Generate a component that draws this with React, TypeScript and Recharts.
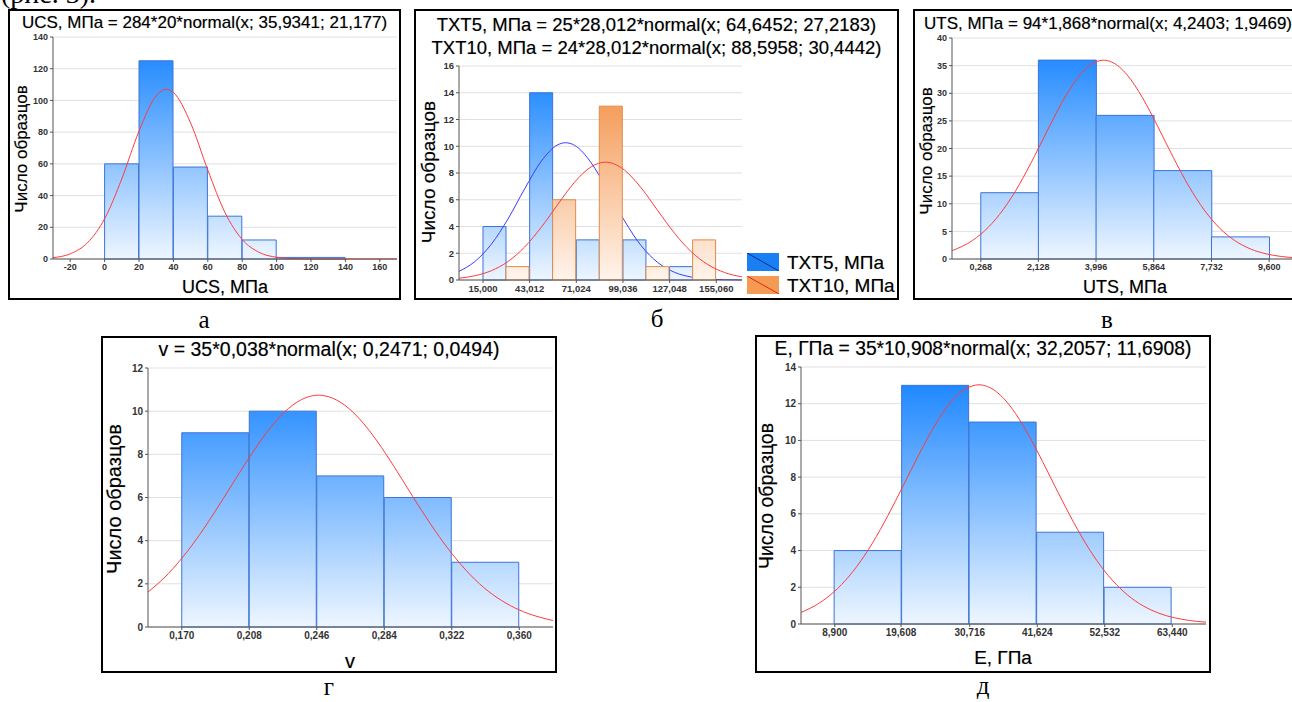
import React from "react";
import { ComposedChart, Bar, Line, XAxis, YAxis, CartesianGrid } from "recharts";

// а — UCS, МПа
const ucsBinMid = [10, 30, 50, 70, 90, 110, 130];
const ucsCount = [60, 125, 58, 27, 12, 1, 1];
const ucsXTicks = [-20, 0, 20, 40, 60, 80, 100, 120, 140, 160];
const ucsYTicks = [0, 20, 40, 60, 80, 100, 120, 140];
const ucsFitX = [-30, -20, -10, 0, 10, 20, 30, 35.9, 40, 50, 60, 70, 80, 90, 100, 110, 120, 130, 140, 150, 160, 170];
const ucsFitY = [0.84, 3.27, 10.19, 25.35, 50.56, 80.62, 102.9, 107.0, 105.0, 85.8, 56.1, 29.3, 12.3, 4.11, 1.1, 0.24, 0.04, 0.01, 0, 0, 0, 0];

// б — TXT5 / TXT10, МПа
const txtBinMid = [29.006, 57.018, 85.03, 113.042, 141.054];
const txt5Count = [4, 14, 3, 3, 1];
const txt10Count = [1, 6, 13, 1, 3];
const txtXTicks = [15, 43.012, 71.024, 99.036, 127.048, 155.06];
const txtYTicks = [0, 2, 4, 6, 8, 10, 12, 14, 16];
const txtFitX = [0.6, 10, 20, 30, 40, 50, 60, 64.6, 70, 80, 88.6, 90, 100, 110, 120, 130, 140, 150, 160, 170, 170.5];
const txt5FitY = [0.645, 1.368, 2.674, 4.565, 6.812, 8.881, 10.115, 10.264, 10.067, 8.754, 6.968, 6.651, 4.415, 2.561, 1.297, 0.575, 0.222, 0.075, 0.022, 0.006, 0.005];
const txt10FitY = [0.135, 0.315, 0.696, 1.382, 2.464, 3.945, 5.667, 6.458, 7.311, 8.466, 8.81, 8.8, 8.213, 6.882, 5.175, 3.494, 2.118, 1.153, 0.563, 0.247, 0.236];

// в — UTS, МПа
const utsBinMid = [1.198, 3.062, 4.93, 6.798, 8.666];
const utsCount = [12, 36, 26, 16, 4];
const utsXTicks = [0.268, 2.128, 3.996, 5.864, 7.732, 9.6];
const utsYTicks = [0, 5, 10, 15, 20, 25, 30, 35, 40];
const utsFitX = [-0.66, 0, 0.5, 1, 1.5, 2, 2.5, 3, 3.5, 4, 4.24, 4.5, 5, 5.5, 6, 6.5, 7, 7.5, 8, 8.5, 9, 9.5, 10, 10.53];
const utsFitY = [1.51, 3.36, 5.69, 9.01, 13.36, 18.56, 24.13, 29.37, 33.47, 35.71, 35.98, 35.66, 33.34, 29.19, 23.92, 18.35, 13.18, 8.86, 5.57, 3.29, 1.81, 0.94, 0.45, 0.19];

// г — v
const nuBinMid = [0.189, 0.227, 0.265, 0.303, 0.341];
const nuCount = [9, 10, 7, 6, 3];
const nuXTicks = [0.17, 0.208, 0.246, 0.284, 0.322, 0.36];
const nuYTicks = [0, 2, 4, 6, 8, 10, 12];
const nuFitX = [0.151, 0.16, 0.17, 0.18, 0.19, 0.2, 0.21, 0.22, 0.23, 0.24, 0.247, 0.25, 0.26, 0.27, 0.28, 0.29, 0.3, 0.31, 0.32, 0.33, 0.34, 0.35, 0.36, 0.37, 0.379];
const nuFitY = [1.62, 2.27, 3.18, 4.27, 5.51, 6.82, 8.1, 9.24, 10.12, 10.63, 10.74, 10.72, 10.38, 9.65, 8.61, 7.37, 6.05, 4.78, 3.62, 2.63, 1.83, 1.23, 0.79, 0.49, 0.3];

// д — E, ГПа
const eBinMid = [14.254, 25.162, 36.07, 46.978, 57.886];
const eCount = [4, 13, 11, 5, 2];
const eXTicks = [8.9, 19.608, 30.716, 41.624, 52.532, 63.44];
const eYTicks = [0, 2, 4, 6, 8, 10, 12, 14];
const eFitX = [3.45, 5, 7.5, 10, 12.5, 15, 17.5, 20, 22.5, 25, 27.5, 30, 32.2, 35, 37.5, 40, 42.5, 45, 47.5, 50, 52.5, 55, 57.5, 60, 62.5, 65, 67.5, 68.89];
const eFitY = [0.63, 0.87, 1.4, 2.15, 3.15, 4.41, 5.91, 7.56, 9.23, 10.78, 12.02, 12.8, 13.03, 12.66, 11.76, 10.43, 8.84, 7.16, 5.54, 4.09, 2.89, 1.95, 1.25, 0.77, 0.45, 0.26, 0.14, 0.1];

const SANS = "'Liberation Sans', Arial, sans-serif";
const SERIF = "'Liberation Serif', 'Times New Roman', serif";
const INK = "0 0 1px rgba(0,0,0,0.35)";
const ML = 30;
const MT = 6;
const MR = 4;
const XH = 22;

type Series = { key: string; values: number[]; fill: "blue" | "orange"; stroke: string; z?: number };
type Fit = { x: number[]; y: number[]; color: string; z?: number };

type HistProps = {
  id: string;
  plot: [number, number, number, number];
  binMid: number[];
  series: Series[];
  fits: Fit[];
  xDomain: [number, number];
  xTicks: number[];
  decimals: number;
  yTicks: number[];
  tickSize: number;
};

function Histogram({ id, plot, binMid, series, fits, xDomain, xTicks, decimals, yTicks, tickSize }: HistProps) {
  const [px, py, pw, ph] = plot;
  const yMax = yTicks[yTicks.length - 1];
  const rows = binMid.map((x, i) => {
    const row: Record<string, number> = { x };
    series.forEach((s) => (row[s.key] = s.values[i]));
    return row;
  });
  const fmt = (v: number) => v.toFixed(decimals).replace(".", ",");
  const tick = { fontSize: tickSize, fontWeight: 700, fill: "#333", fontFamily: SANS };

  return (
    <div style={{ position: "absolute", left: px - ML, top: py - MT }}>
      <ComposedChart
        width={pw + ML + MR}
        height={ph + MT + XH}
        data={rows}
        margin={{ top: MT, right: MR, bottom: 0, left: 0 }}
        barGap={0}
        barCategoryGap={0}
      >
        <defs>
          <linearGradient id={`${id}-blue`} gradientUnits="userSpaceOnUse" x1={0} y1={MT} x2={0} y2={MT + ph}>
            <stop offset="0%" stopColor="#1080ff" />
            <stop offset="100%" stopColor="#eef6ff" />
          </linearGradient>
          <linearGradient id={`${id}-orange`} gradientUnits="userSpaceOnUse" x1={0} y1={MT} x2={0} y2={MT + ph}>
            <stop offset="0%" stopColor="#f28a3a" />
            <stop offset="100%" stopColor="#fff4ec" />
          </linearGradient>
        </defs>
        <CartesianGrid vertical={false} stroke="#e0e0e0" />
        <XAxis
          dataKey="x"
          type="number"
          domain={xDomain}
          ticks={xTicks}
          interval={0}
          tickFormatter={fmt}
          height={XH}
          tick={tick}
          tickSize={3}
          tickMargin={2}
          stroke="#555"
          allowDataOverflow
        />
        <XAxis xAxisId="curve" dataKey="x" type="number" domain={xDomain} hide allowDataOverflow />
        <XAxis
          xAxisId="top"
          orientation="top"
          type="number"
          domain={xDomain}
          ticks={xTicks}
          interval={0}
          height={0}
          mirror
          tickFormatter={() => ""}
          tickSize={3}
          stroke="#8a8a8a"
          allowDataOverflow
        />
        <YAxis
          type="number"
          domain={[0, yMax]}
          ticks={yTicks}
          interval={0}
          width={ML}
          tick={tick}
          tickSize={3}
          tickMargin={2}
          stroke="#555"
        />
        <YAxis yAxisId="right" orientation="right" type="number" domain={[0, yMax]} width={0} tick={false} tickLine={false} stroke="#8a8a8a" />
        {series.map((s) => (
          <Bar
            key={s.key}
            dataKey={s.key}
            fill={`url(#${id}-${s.fill})`}
            stroke={s.stroke}
            strokeWidth={1}
            zIndex={s.z}
            isAnimationActive={false}
          />
        ))}
        {fits.map((f, i) => (
          <Line
            key={i}
            xAxisId="curve"
            data={f.x.map((x, j) => ({ x, y: f.y[j] }))}
            dataKey="y"
            type="monotone"
            stroke={f.color}
            strokeWidth={1}
            dot={false}
            activeDot={false}
            zIndex={f.z}
            isAnimationActive={false}
          />
        ))}
      </ComposedChart>
    </div>
  );
}

type FrameProps = {
  box: [number, number, number, number];
  title: string[];
  titleY: number[];
  titleSize: number;
  yLabelAt: [number, number];
  yLabelSize: number;
  xLabel?: string;
  xLabelAt?: [number, number];
  xLabelSize?: number;
  caption: string;
  captionX: number;
  captionTop: number;
};

function Frame({ box, title, titleY, titleSize, yLabelAt, yLabelSize, xLabel, xLabelAt, xLabelSize, caption, captionX, captionTop }: FrameProps) {
  const [fx, fy, fw, fh] = box;
  const center = (x: number, y: number): React.CSSProperties => ({
    position: "absolute",
    left: x,
    top: y,
    whiteSpace: "nowrap",
    lineHeight: 1,
    transform: "translate(-50%, -50%)",
    fontFamily: SANS,
    color: "#000",
    textShadow: INK,
  });
  return (
    <>
      <div
        style={{
          position: "absolute",
          left: fx,
          top: fy,
          width: fw,
          height: fh,
          border: "2px solid #000",
          boxSizing: "border-box",
        }}
      />
      {title.map((t, i) => (
        <div key={i} style={{ ...center(fx + fw / 2, titleY[i]), fontSize: titleSize }}>
          {t}
        </div>
      ))}
      <div
        style={{
          ...center(yLabelAt[0], yLabelAt[1]),
          transform: "translate(-50%, -50%) rotate(-90deg)",
          fontSize: yLabelSize,
        }}
      >
        Число образцов
      </div>
      {xLabel && xLabelAt && (
        <div style={{ ...center(xLabelAt[0], xLabelAt[1]), fontSize: xLabelSize }}>{xLabel}</div>
      )}
      <div
        style={{
          position: "absolute",
          left: captionX,
          top: captionTop,
          transform: "translateX(-50%)",
          fontFamily: SERIF,
          fontSize: 25,
          lineHeight: "20px",
          whiteSpace: "nowrap",
          color: "#000",
        }}
      >
        {caption}
      </div>
    </>
  );
}

function LegendSwatch({ x, y, fill, line }: { x: number; y: number; fill: string; line: string }) {
  return (
    <svg style={{ position: "absolute", left: x, top: y }} width={32} height={18}>
      <rect x={0} y={0} width={32} height={18} fill={fill} />
      <line x1={0} y1={0} x2={32} y2={18} stroke={line} strokeWidth={1} />
    </svg>
  );
}

const legendText: React.CSSProperties = {
  position: "absolute",
  left: 787,
  transform: "translateY(-50%)",
  fontFamily: SANS,
  fontSize: 19,
  lineHeight: 1,
  whiteSpace: "nowrap",
  color: "#000",
  textShadow: INK,
};

export default function App() {
  return (
    <div
      style={{
        position: "absolute",
        left: 0,
        top: 0,
        width: 1292,
        height: 702,
        overflow: "hidden",
        background: "#fff",
      }}
    >
      <div style={{ position: "absolute", left: 1, top: -20, fontFamily: SERIF, fontSize: 28, lineHeight: "28px", whiteSpace: "nowrap" }}>
        (рис. 3).
      </div>

      {/* а */}
      <Frame
        box={[8, 9, 393, 291]}
        title={["UCS, МПа = 284*20*normal(x; 35,9341; 21,177)"]}
        titleY={[22]}
        titleSize={17}
        yLabelAt={[21, 149]}
        yLabelSize={17}
        xLabel="UCS, МПа"
        xLabelAt={[225, 287]}
        xLabelSize={18}
        caption="а"
        captionX={204}
        captionTop={310}
      />
      <Histogram
        id="ucs"
        plot={[53, 37, 344, 222]}
        binMid={ucsBinMid}
        series={[{ key: "n", values: ucsCount, fill: "blue", stroke: "#3d74d6" }]}
        fits={[{ x: ucsFitX, y: ucsFitY, color: "#ff3b3b" }]}
        xDomain={[-30, 170]}
        xTicks={ucsXTicks}
        decimals={0}
        yTicks={ucsYTicks}
        tickSize={9}
      />

      {/* б */}
      <Frame
        box={[414, 9, 485, 291]}
        title={[
          "TXT5, МПа = 25*28,012*normal(x; 64,6452; 27,2183)",
          "TXT10, МПа = 24*28,012*normal(x; 88,5958; 30,4442)",
        ]}
        titleY={[25, 48]}
        titleSize={18.5}
        yLabelAt={[428, 172]}
        yLabelSize={19}
        caption="б"
        captionX={657}
        captionTop={309}
      />
      <Histogram
        id="txt"
        plot={[459, 66, 283, 214]}
        binMid={txtBinMid}
        series={[
          { key: "t5", values: txt5Count, fill: "blue", stroke: "#3d74d6", z: 300 },
          { key: "t10", values: txt10Count, fill: "orange", stroke: "#de8c4c", z: 320 },
        ]}
        fits={[
          { x: txtFitX, y: txt5FitY, color: "#3b3bff", z: 310 },
          { x: txtFitX, y: txt10FitY, color: "#ff3b3b", z: 400 },
        ]}
        xDomain={[0.6, 170.5]}
        xTicks={txtXTicks}
        decimals={3}
        yTicks={txtYTicks}
        tickSize={9.5}
      />
      <LegendSwatch x={747} y={253} fill="#1a7ff2" line="#0b2a9c" />
      <LegendSwatch x={747} y={276} fill="#f59a52" line="#e8201a" />
      <div style={{ ...legendText, top: 262 }}>TXT5, МПа</div>
      <div style={{ ...legendText, top: 285 }}>TXT10, МПа</div>

      {/* в */}
      <Frame
        box={[913, 9, 390, 291]}
        title={["UTS, МПа = 94*1,868*normal(x; 4,2403; 1,9469)"]}
        titleY={[23]}
        titleSize={17}
        yLabelAt={[926, 151]}
        yLabelSize={17}
        xLabel="UTS, МПа"
        xLabelAt={[1125, 287]}
        xLabelSize={18}
        caption="в"
        captionX={1107}
        captionTop={310}
      />
      <Histogram
        id="uts"
        plot={[952, 38, 346, 221]}
        binMid={utsBinMid}
        series={[{ key: "n", values: utsCount, fill: "blue", stroke: "#3d74d6" }]}
        fits={[{ x: utsFitX, y: utsFitY, color: "#ff3b3b" }]}
        xDomain={[-0.666, 10.534]}
        xTicks={utsXTicks}
        decimals={3}
        yTicks={utsYTicks}
        tickSize={9}
      />

      {/* г */}
      <Frame
        box={[101, 336, 456, 337]}
        title={["v = 35*0,038*normal(x; 0,2471; 0,0494)"]}
        titleY={[350]}
        titleSize={19.5}
        yLabelAt={[114, 499]}
        yLabelSize={20}
        xLabel="v"
        xLabelAt={[350, 661]}
        xLabelSize={20}
        caption="г"
        captionX={329}
        captionTop={677}
      />
      <Histogram
        id="nu"
        plot={[148, 368, 405, 259]}
        binMid={nuBinMid}
        series={[{ key: "n", values: nuCount, fill: "blue", stroke: "#3d74d6" }]}
        fits={[{ x: nuFitX, y: nuFitY, color: "#ff3b3b" }]}
        xDomain={[0.151, 0.379]}
        xTicks={nuXTicks}
        decimals={3}
        yTicks={nuYTicks}
        tickSize={10}
      />

      {/* д */}
      <Frame
        box={[755, 335, 456, 338]}
        title={["E, ГПа = 35*10,908*normal(x; 32,2057; 11,6908)"]}
        titleY={[349]}
        titleSize={19.3}
        yLabelAt={[767, 496]}
        yLabelSize={19.5}
        xLabel="E, ГПа"
        xLabelAt={[1003, 657]}
        xLabelSize={19}
        caption="д"
        captionX={983}
        captionTop={676}
      />
      <Histogram
        id="e"
        plot={[801, 367, 405, 257]}
        binMid={eBinMid}
        series={[{ key: "n", values: eCount, fill: "blue", stroke: "#3d74d6" }]}
        fits={[{ x: eFitX, y: eFitY, color: "#ff3b3b" }]}
        xDomain={[3.446, 68.894]}
        xTicks={eXTicks}
        decimals={3}
        yTicks={eYTicks}
        tickSize={10}
      />
    </div>
  );
}
